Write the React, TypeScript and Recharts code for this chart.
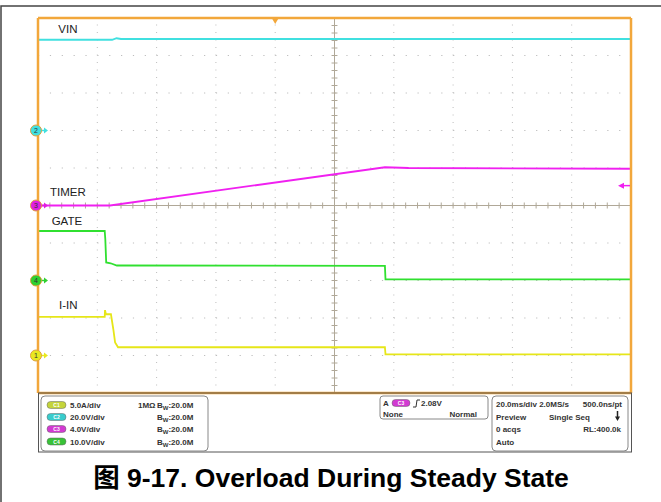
import React from "react";
import { LineChart, Line, XAxis, YAxis, ReferenceLine, ReferenceDot } from "recharts";

// time in ms (20 ms/div, 10 div), amplitude in screen divisions (0 = bottom, 10 = top)
const vinTime = [0, 25, 26.5, 28, 60, 200];
const vinDiv = [9.42, 9.42, 9.46, 9.44, 9.44, 9.44];

const timerTime = [0, 24.3, 117, 125, 200];
const timerDiv = [5.0, 5.0, 6.02, 6.0, 5.98];

const gateTime = [0, 22.5, 22.7, 23.0, 24.5, 26.6, 117, 117.2, 200];
const gateDiv = [4.32, 4.32, 4.1, 3.48, 3.46, 3.4, 3.39, 3.03, 3.03];

const iinTime = [0, 22.5, 22.6, 22.9, 24.6, 25.4, 26.0, 27.0, 117, 117.2, 200];
const iinDiv = [2.03, 2.03, 2.21, 2.1, 2.1, 1.7, 1.35, 1.22, 1.22, 1.03, 1.03];

const traceNames = ["VIN", "TIMER", "GATE", "I-IN"];
const traceColors = ["#40e0e0", "#f020f0", "#30e030", "#e6e619"];
const labelTime = [6.85, 4.05, 4.6, 7.1];
const labelDiv = [9.59, 5.26, 4.48, 2.24];

// channel ground markers on the left edge
const markerCh = ["2", "3", "4", "1"];
const markerDiv = [7, 5, 3, 1];
const markerColors = ["#40e0e0", "#e020e0", "#30d030", "#e8e820"];

// scope settings panel
const chScales = ["5.0A/div", "20.0V/div", "4.0V/div", "10.0V/div"];
const chPills = ["C1", "C2", "C3", "C4"];
const chPillColors = ["#c4d43a", "#38cccc", "#d23ad2", "#38c238"];

const gridX = [20, 40, 60, 80, 120, 140, 160, 180];
const gridY = [1, 2, 3, 4, 6, 7, 8, 9];
const minorX = Array.from({ length: 51 }, (_, i) => i * 4);
const minorY = Array.from({ length: 51 }, (_, i) => +(i * 0.2).toFixed(1));

const ORANGE = "#f2a73b";
const TICK = "#b0a898";
const FONT = "'Liberation Sans', Arial, 'Noto Sans CJK SC', sans-serif";

const zip = (t: number[], v: number[]) => t.map((x, i) => ({ t: x, v: v[i] }));
const series = [zip(vinTime, vinDiv), zip(timerTime, timerDiv), zip(gateTime, gateDiv), zip(iinTime, iinDiv)];

const ax = { xAxisId: "b", yAxisId: "l" };

function Panel() {
    const txt = { fontFamily: FONT, fontSize: 8, fontWeight: 700, fill: "#333" } as const;
    const rows = [408, 420, 432, 444.5];
    return (
        <svg width={661} height={502} style={{ position: "absolute", left: 0, top: 0, pointerEvents: "none" }}>
            <path d="M1,502 L1,6 L661,6" stroke="#444" strokeWidth={1.5} fill="none" />
            <rect x={38.5} y={393} width={593} height={59} stroke="#555" fill="none" />

            <rect x={41} y={396} width={167} height={55} rx={4} stroke="#888" fill="none" />
            {chScales.map((s, i) => (
                <g key={s}>
                    <rect x={47} y={rows[i] - 6.5} width={19} height={7} rx={3.5} fill={chPillColors[i]} stroke="#666" strokeWidth={0.5} />
                    <text x={56.5} y={rows[i] - 1} textAnchor="middle" style={{ ...txt, fontSize: 5, fill: "#fff" }}>{chPills[i]}</text>
                    <text x={70} y={rows[i]} style={txt}>{s}</text>
                    {i === 0 && <text x={138} y={rows[i]} style={txt}>1MΩ</text>}
                    <text x={157} y={rows[i]} style={txt}>
                        B<tspan fontSize={6} dy={2}>W</tspan><tspan dy={-2}>:20.0M</tspan>
                    </text>
                </g>
            ))}

            <rect x={380} y={396} width={108} height={23} rx={3} stroke="#888" fill="none" />
            <text x={383} y={406} style={txt}>A</text>
            <rect x={392} y={399.5} width={18} height={7} rx={3.5} fill="#d23ad2" stroke="#666" strokeWidth={0.5} />
            <text x={401} y={405} textAnchor="middle" style={{ ...txt, fontSize: 5, fill: "#fff" }}>C3</text>
            <path d="M413,407 L416,407 L417,400 L420,400" stroke="#333" strokeWidth={1} fill="none" />
            <text x={421} y={406} style={txt}>2.08V</text>
            <text x={383} y={417} style={txt}>None</text>
            <text x={477} y={417} textAnchor="end" style={txt}>Normal</text>

            <rect x={492} y={396} width={136} height={55} rx={4} stroke="#888" fill="none" />
            <text x={496} y={407} style={txt}>20.0ms/div 2.0MS/s</text>
            <text x={622} y={407} textAnchor="end" style={txt}>500.0ns/pt</text>
            <text x={496} y={420} style={txt}>Preview</text>
            <text x={549} y={420} style={txt}>Single Seq</text>
            <path d="M617.5,411 L617.5,419" stroke="#222" strokeWidth={1.5} />
            <path d="M615,416.5 L620,416.5 L617.5,421 Z" fill="#222" />
            <text x={496} y={432} style={txt}>0 acqs</text>
            <text x={621} y={432} textAnchor="end" style={txt}>RL:400.0k</text>
            <text x={496} y={445} style={txt}>Auto</text>

            <text x={331} y={487} textAnchor="middle" style={{ fontFamily: FONT, fontSize: 26.5, fontWeight: 700, fill: "#000" }}>
                图 9-17. Overload During Steady State
            </text>
        </svg>
    );
}

export default function App() {
    return (
        <div style={{ position: "absolute", left: 0, top: 0, width: 661, height: 502, background: "#fff" }}>
            <LineChart width={661} height={502} margin={{ top: 18, right: 30, bottom: 109, left: 38 }}>
                <XAxis xAxisId="b" type="number" dataKey="t" domain={[0, 200]} allowDataOverflow mirror ticks={minorX}
                    tick={false} tickSize={4} axisLine={{ stroke: ORANGE, strokeWidth: 2.5 }} tickLine={{ stroke: TICK }} />
                <XAxis xAxisId="t" orientation="top" type="number" dataKey="t" domain={[0, 200]} allowDataOverflow mirror ticks={minorX}
                    tick={false} tickSize={4} axisLine={{ stroke: ORANGE, strokeWidth: 2.5 }} tickLine={{ stroke: TICK }} />
                <YAxis yAxisId="l" type="number" domain={[0, 10]} allowDataOverflow mirror ticks={minorY}
                    tick={false} tickSize={4} axisLine={{ stroke: ORANGE, strokeWidth: 2.5 }} tickLine={{ stroke: TICK }} />
                <YAxis yAxisId="r" orientation="right" type="number" domain={[0, 10]} allowDataOverflow mirror ticks={minorY}
                    tick={false} tickSize={4} axisLine={{ stroke: ORANGE, strokeWidth: 2.5 }} tickLine={{ stroke: TICK }} />

                {gridX.map((g) => (
                    <ReferenceLine key={"gx" + g} {...ax} x={g} stroke="#bdbdbd" strokeDasharray="1 6.5" />
                ))}
                {gridY.map((g) => (
                    <ReferenceLine key={"gy" + g} {...ax} y={g} stroke="#bdbdbd" strokeDasharray="1.2 10.66" />
                ))}
                <ReferenceLine {...ax} x={100} stroke={TICK} />
                <ReferenceLine {...ax} y={5} stroke={TICK} />
                {minorY.map((y) => (
                    <ReferenceLine key={"cy" + y} {...ax} segment={[{ x: 99, y }, { x: 101, y }]} stroke={TICK} />
                ))}
                {minorX.map((x) => (
                    <ReferenceLine key={"cx" + x} {...ax} segment={[{ x, y: 4.92 }, { x, y: 5.08 }]} stroke={TICK} />
                ))}

                {series.map((d, i) => (
                    <Line key={traceNames[i]} {...ax} data={d} dataKey="v" type="linear" stroke={traceColors[i]}
                        strokeWidth={1.8} dot={false} isAnimationActive={false} />
                ))}

                {traceNames.map((n, i) => (
                    <ReferenceDot key={"lb" + n} {...ax} x={labelTime[i]} y={labelDiv[i]}
                        shape={(p: any) => (
                            <text x={p.cx} y={p.cy} style={{ fontFamily: FONT, fontSize: 11.5, fill: "#222" }}>{n}</text>
                        )} />
                ))}

                {markerCh.map((c, i) => (
                    <ReferenceDot key={"mk" + c} {...ax} x={0} y={markerDiv[i]}
                        shape={(p: any) => (
                            <g>
                                <path d={`M${p.cx + 3},${p.cy} L${p.cx + 7},${p.cy}`} stroke={markerColors[i]} strokeWidth={1.5} />
                                <path d={`M${p.cx + 6},${p.cy - 3} L${p.cx + 10},${p.cy} L${p.cx + 6},${p.cy + 3} Z`} fill={markerColors[i]} />
                                <circle cx={p.cx - 2} cy={p.cy} r={5.5} fill={markerColors[i]} stroke="#e0a040" strokeWidth={1} />
                                <text x={p.cx - 2} y={p.cy + 2.5} textAnchor="middle" style={{ fontFamily: FONT, fontSize: 7, fill: "#333" }}>{c}</text>
                            </g>
                        )} />
                ))}

                <ReferenceDot {...ax} x={80} y={10}
                    shape={(p: any) => <path d={`M${p.cx - 3.5},${p.cy} L${p.cx + 3.5},${p.cy} L${p.cx},${p.cy + 6} Z`} fill={ORANGE} />} />
                <ReferenceDot {...ax} x={200} y={5.53}
                    shape={(p: any) => (
                        <g>
                            <path d={`M${p.cx - 7},${p.cy} L${p.cx - 1},${p.cy}`} stroke="#f020f0" strokeWidth={1.5} />
                            <path d={`M${p.cx - 13},${p.cy} L${p.cx - 7},${p.cy - 3} L${p.cx - 7},${p.cy + 3} Z`} fill="#f020f0" />
                        </g>
                    )} />
            </LineChart>
            <Panel />
        </div>
    );
}
